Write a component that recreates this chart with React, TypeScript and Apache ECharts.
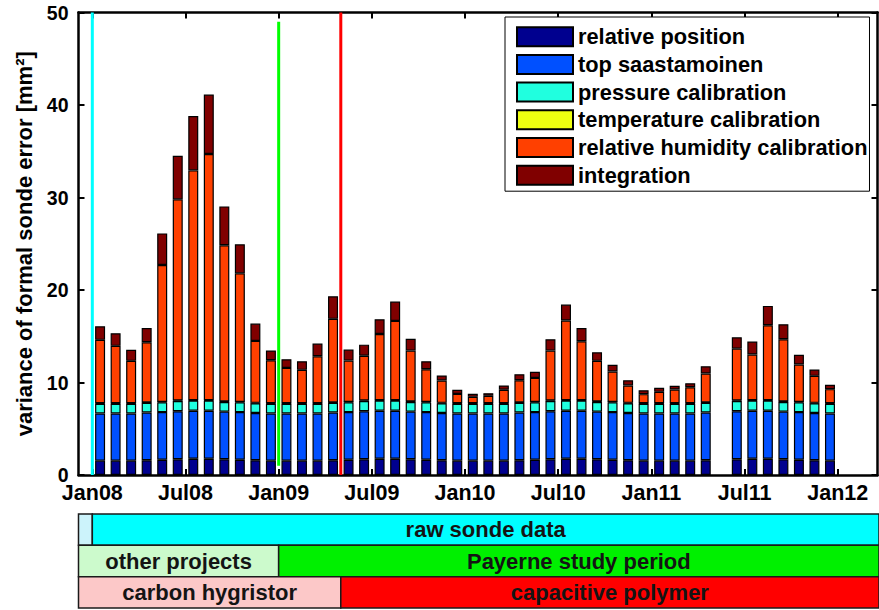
import { useEffect, useRef } from 'react';
import * as echarts from 'echarts';

// Monthly stacked variances of the formal sonde error, Jan 2008 – Dec 2011 (May 2011 missing).
const MONTHS = [
  'Jan08', 'Feb08', 'Mar08', 'Apr08', 'May08', 'Jun08', 'Jul08', 'Aug08', 'Sep08', 'Oct08', 'Nov08', 'Dec08',
  'Jan09', 'Feb09', 'Mar09', 'Apr09', 'May09', 'Jun09', 'Jul09', 'Aug09', 'Sep09', 'Oct09', 'Nov09', 'Dec09',
  'Jan10', 'Feb10', 'Mar10', 'Apr10', 'May10', 'Jun10', 'Jul10', 'Aug10', 'Sep10', 'Oct10', 'Nov10', 'Dec10',
  'Jan11', 'Feb11', 'Mar11', 'Apr11', 'May11', 'Jun11', 'Jul11', 'Aug11', 'Sep11', 'Oct11', 'Nov11', 'Dec11',
];

const REL_POSITION = [
  1.55, 1.55, 1.55, 1.6, 1.65, 1.7, 1.75, 1.75, 1.7, 1.65, 1.6, 1.55,
  1.55, 1.55, 1.55, 1.6, 1.65, 1.7, 1.75, 1.75, 1.7, 1.65, 1.6, 1.55,
  1.55, 1.55, 1.55, 1.6, 1.65, 1.7, 1.75, 1.75, 1.7, 1.65, 1.6, 1.55,
  1.55, 1.55, 1.55, 1.6, null, 1.7, 1.75, 1.75, 1.7, 1.65, 1.6, 1.55,
];

const TOP_SAASTAMOINEN = [
  5.1, 5.1, 5.1, 5.15, 5.15, 5.2, 5.2, 5.2, 5.15, 5.15, 5.1, 5.1,
  5.1, 5.1, 5.1, 5.15, 5.15, 5.2, 5.2, 5.2, 5.15, 5.15, 5.1, 5.1,
  5.1, 5.1, 5.1, 5.15, 5.15, 5.2, 5.2, 5.2, 5.15, 5.15, 5.1, 5.1,
  5.1, 5.1, 5.1, 5.15, null, 5.2, 5.2, 5.2, 5.15, 5.15, 5.1, 5.1,
];

const PRESSURE_CAL = [
  1.05, 1.05, 1.05, 1.05, 1.05, 1.1, 1.1, 1.1, 1.05, 1.05, 1.05, 1.05,
  1.05, 1.05, 1.05, 1.05, 1.05, 1.1, 1.1, 1.1, 1.05, 1.05, 1.05, 1.05,
  1.05, 1.05, 1.05, 1.05, 1.05, 1.1, 1.1, 1.1, 1.05, 1.05, 1.05, 1.05,
  1.05, 1.05, 1.05, 1.05, null, 1.1, 1.1, 1.1, 1.05, 1.05, 1.05, 1.05,
];

const TEMPERATURE_CAL = [
  0.05, 0.05, 0.05, 0.05, 0.05, 0.05, 0.05, 0.05, 0.05, 0.05, 0.05, 0.05,
  0.05, 0.05, 0.05, 0.05, 0.05, 0.05, 0.05, 0.05, 0.05, 0.05, 0.05, 0.05,
  0.05, 0.05, 0.05, 0.05, 0.05, 0.05, 0.05, 0.05, 0.05, 0.05, 0.05, 0.05,
  0.05, 0.05, 0.05, 0.05, null, 0.05, 0.05, 0.05, 0.05, 0.05, 0.05, 0.05,
];

const RH_CAL = [
  6.86, 6.21, 4.59, 6.5, 14.81, 21.75, 24.83, 26.6, 16.88, 13.9, 6.7, 4.66,
  3.83, 3.62, 5.09, 9.03, 4.47, 4.85, 7.15, 8.56, 5.5, 3.54, 2.42, 1.02,
  0.7, 0.81, 1.46, 2.4, 2.6, 5.4, 8.6, 6.36, 4.39, 3.29, 1.88, 0.99,
  1.24, 1.49, 1.74, 3.12, null, 5.61, 4.92, 8.09, 6.73, 4.04, 2.92, 1.53,
];

const INTEGRATION = [
  1.47, 1.37, 1.19, 1.55, 3.41, 4.71, 5.87, 6.43, 4.21, 3.14, 1.87, 1.05,
  0.94, 0.93, 1.37, 2.44, 1.19, 1.19, 1.59, 2.09, 1.27, 0.86, 0.54, 0.44,
  0.33, 0.29, 0.47, 0.65, 0.65, 1.23, 1.72, 1.44, 0.93, 0.72, 0.57, 0.43,
  0.44, 0.4, 0.43, 0.79, null, 1.23, 1.41, 2.09, 1.62, 1.05, 0.68, 0.47,
];

const SERIES_NAMES = [
  'relative position',
  'top saastamoinen',
  'pressure calibration',
  'temperature calibration',
  'relative humidity calibration',
  'integration',
];
const SERIES_VALUES = [REL_POSITION, TOP_SAASTAMOINEN, PRESSURE_CAL, TEMPERATURE_CAL, RH_CAL, INTEGRATION];
const SERIES_COLORS = ['#00008f', '#0050ff', '#20ffdf', '#efff10', '#ff4000', '#800000'];

// x axis in months since 1 Jan 2008
const TICK_MONTHS = [0, 6, 12, 18, 24, 30, 36, 42, 48];
const TICK_LABELS = ['Jan08', 'Jul08', 'Jan09', 'Jul09', 'Jan10', 'Jul10', 'Jan11', 'Jul11', 'Jan12'];

// change points: start of raw data, start of Payerne study, switch to capacitive sensor
const EVENT_MONTHS = [0, 12, 16];
const EVENT_COLORS = ['#00ffff', '#00ff00', '#ff0000'];
const EVENT_RANGES = [[0, 50], [1, 49], [0, 50]];

const BAND_ROWS = ['data', 'project', 'sensor'];
const BAND_LABELS = ['', 'raw sonde data', 'other projects', 'Payerne study period', 'carbon hygristor', 'capacitive polymer'];
const BAND_ROW_OF = [0, 0, 1, 1, 2, 2];
const BAND_COLORS = ['#ccf3fb', '#00ffff', '#ccfacc', '#00f000', '#fcc8c8', '#ff0000'];

const FONT = '"Liberation Sans", Arial, Helvetica, sans-serif';

const X_MIN = -0.89;
const X_MAX = 50.56;
const BAND_X_MAX = 50.66;

export default function App() {
  const ref = useRef<HTMLDivElement>(null);

  useEffect(() => {
    if (!ref.current) return;
    const chart = echarts.init(ref.current, null, { renderer: 'svg' });

    const valid = MONTHS.map((_, i) => i).filter((i) => SERIES_VALUES.every((s) => s[i] != null));

    // value first, month second, so that the stack runs along the y dimension
    const barSeries = SERIES_NAMES.map((name, k) => ({
      name,
      type: 'bar',
      stack: 'err',
      xAxisIndex: 0,
      yAxisIndex: 0,
      barWidth: 10,
      silent: true,
      encode: { x: 1, y: 0 },
      itemStyle: { color: SERIES_COLORS[k], borderColor: '#000', borderWidth: 1.2 },
      data: valid.map((i) => [SERIES_VALUES[k][i], i + 0.5]),
    }));

    const eventSeries = EVENT_MONTHS.map((m, k) => ({
      name: 'event' + k,
      type: 'line',
      xAxisIndex: 0,
      yAxisIndex: 0,
      symbol: 'none',
      silent: true,
      z: 5,
      lineStyle: { color: EVENT_COLORS[k], width: 3 },
      data: [[m, EVENT_RANGES[k][0]], [m, EVENT_RANGES[k][1]]],
    }));

    // band segment boundaries: [from, to]
    const bandFrom = [X_MIN, EVENT_MONTHS[0], X_MIN, EVENT_MONTHS[1], X_MIN, EVENT_MONTHS[2]];
    const bandTo = [EVENT_MONTHS[0], BAND_X_MAX, EVENT_MONTHS[1], BAND_X_MAX, EVENT_MONTHS[2], BAND_X_MAX];

    const bandSeries = {
      type: 'custom',
      xAxisIndex: 2,
      yAxisIndex: 2,
      silent: true,
      clip: false,
      data: BAND_LABELS.map((_, i) => [bandFrom[i], bandTo[i], BAND_ROW_OF[i]]),
      renderItem: (params: any, api: any) => {
        const i = params.dataIndex;
        const a = api.coord([api.value(0), api.value(2)]);
        const b = api.coord([api.value(1), api.value(2)]);
        const h = api.size([0, 1])[1];
        return {
          type: 'group',
          children: [
            {
              type: 'rect',
              shape: { x: a[0], y: a[1] - h / 2, width: b[0] - a[0], height: h },
              style: { fill: BAND_COLORS[i], stroke: '#1a1a1a', lineWidth: 1.5 },
            },
            {
              type: 'text',
              style: {
                text: BAND_LABELS[i],
                x: (a[0] + b[0]) / 2,
                y: a[1],
                align: 'center',
                verticalAlign: 'middle',
                fontSize: 22,
                fontWeight: 'bold',
                fontFamily: FONT,
                fill: '#141414',
              },
            },
          ],
        };
      },
    };

    const axisLine = { show: true, onZero: false, lineStyle: { color: '#000', width: 2.5 } };
    const tickStyle = { color: '#000', width: 2 };

    chart.setOption({
      animation: false,
      textStyle: { fontFamily: FONT },
      grid: [
        { left: 78.5, top: 12.5, width: 799, height: 462.5 },
        { left: 78.5, top: 514, width: 800.5, height: 94 },
      ],
      legend: {
        data: SERIES_NAMES,
        orient: 'vertical',
        left: 505,
        top: 17,
        icon: 'rect',
        itemWidth: 56,
        itemHeight: 19,
        itemGap: 5.7,
        selectedMode: false,
        backgroundColor: '#fff',
        borderColor: '#000',
        borderWidth: 1,
        padding: [8.7, 2, 5, 11],
        textStyle: { fontSize: 21.8, fontWeight: 'bold', color: '#000', fontFamily: FONT, lineHeight: 20 },
      },
      xAxis: [
        {
          type: 'value',
          gridIndex: 0,
          min: X_MIN,
          max: X_MAX,
          position: 'bottom',
          axisLine,
          axisTick: { show: true, inside: true, length: 6, customValues: TICK_MONTHS, lineStyle: tickStyle },
          axisLabel: {
            customValues: TICK_MONTHS,
            formatter: (v: number) => TICK_LABELS[TICK_MONTHS.indexOf(v)] ?? '',
            fontSize: 21.5,
            fontWeight: 'bold',
            color: '#000',
            fontFamily: FONT,
            lineHeight: 17,
            margin: 9,
          },
          splitLine: { show: false },
        },
        {
          type: 'value',
          gridIndex: 0,
          min: X_MIN,
          max: X_MAX,
          position: 'top',
          axisLine,
          axisTick: { show: true, inside: true, length: 6, customValues: TICK_MONTHS, lineStyle: tickStyle },
          axisLabel: { show: false },
          splitLine: { show: false },
        },
        { type: 'value', gridIndex: 1, min: X_MIN, max: BAND_X_MAX, show: false },
      ],
      yAxis: [
        {
          type: 'value',
          gridIndex: 0,
          min: 0,
          max: 50,
          interval: 10,
          position: 'left',
          axisLine,
          axisTick: { show: true, inside: true, length: 6, lineStyle: tickStyle },
          axisLabel: {
            fontSize: 19.5,
            fontWeight: 'bold',
            color: '#000',
            fontFamily: FONT,
            lineHeight: 13,
            margin: 10,
          },
          splitLine: { show: false },
          name: 'variance of formal sonde error [mm²]',
          nameLocation: 'middle',
          nameGap: 34,
          nameTextStyle: { fontSize: 22, fontWeight: 'bold', color: '#000', fontFamily: FONT },
        },
        {
          type: 'value',
          gridIndex: 0,
          min: 0,
          max: 50,
          interval: 10,
          position: 'right',
          axisLine,
          axisTick: { show: true, inside: true, length: 6, lineStyle: tickStyle },
          axisLabel: { show: false },
          splitLine: { show: false },
        },
        { type: 'category', gridIndex: 1, data: BAND_ROWS, inverse: true, show: false },
      ],
      series: [...barSeries, ...eventSeries, bandSeries],
    });

    return () => chart.dispose();
  }, []);

  return (
    <div
      ref={ref}
      style={{ position: 'absolute', left: 0, top: 0, width: 879, height: 610, background: '#fff' }}
    />
  );
}
